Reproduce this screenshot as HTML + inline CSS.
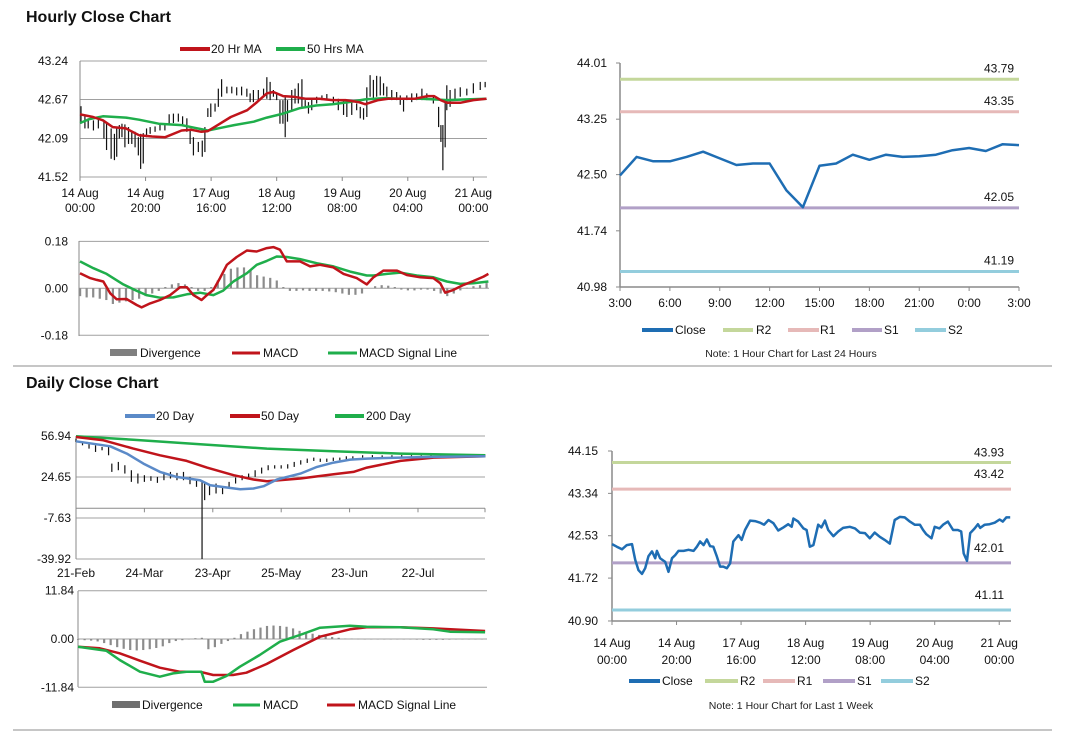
<!DOCTYPE html>
<html><head><meta charset="utf-8">
<style>
html,body{margin:0;padding:0;background:#fff;}
svg{display:block;font-family:"Liberation Sans",Arial,sans-serif;}
</style></head>
<body>
<svg id="chart" width="1066" height="733" viewBox="0 0 1066 733" xmlns="http://www.w3.org/2000/svg">
<rect x="0" y="0" width="1066" height="733" fill="#fff"/>
<text x="26" y="22" font-size="16" font-weight="bold" fill="#111">Hourly Close Chart</text>
<text x="26" y="388" font-size="16" font-weight="bold" fill="#111">Daily Close Chart</text>
<line x1="13" y1="366" x2="1052" y2="366" stroke="#8c8c8c" stroke-width="1"/>
<line x1="13" y1="730" x2="1052" y2="730" stroke="#8c8c8c" stroke-width="1"/>
</svg>
<script>
// ===== Hourly price chart data =====
const hTicks=["43.24","42.67","42.09","41.52"];
const hTickVals=[43.24,42.67,42.09,41.52];
const hXLabels1=["14 Aug","14 Aug","17 Aug","18 Aug","19 Aug","20 Aug","21 Aug"];
const hXLabels2=["00:00","20:00","16:00","12:00","08:00","04:00","00:00"];
const hXLabelIdx=[0,20,40,60,80,100,120];
const hBarIdx=[0.3,1.5,2.5,4.1,5.6,7.3,8.1,9.5,10.5,11.2,12.0,12.8,13.7,14.8,15.8,16.8,17.8,18.5,19.3,20.3,21.4,22.9,24.4,25.9,27.2,28.5,30.0,31.3,32.6,33.6,34.6,36.1,37.3,38.1,39.0,39.9,41.2,42.2,43.2,44.8,46.3,47.8,49.3,50.9,51.9,52.9,54.4,56.0,57.0,58.0,59.0,60.0,61.0,61.9,62.6,63.3,64.6,65.6,66.6,67.7,68.7,69.7,70.7,72.2,73.8,75.3,77.3,78.8,80.4,81.4,82.9,84.4,85.5,86.5,87.5,88.5,89.5,90.5,91.6,92.6,93.6,95.1,96.6,97.7,98.7,99.7,101.2,102.7,104.3,105.8,107.8,109.4,110.1,110.7,111.4,111.9,112.9,114.4,116.0,118.0,120.0,122.1,123.6];
const hBarHigh=[42.57,42.44,42.39,42.36,42.41,42.36,42.31,42.24,42.16,42.26,42.29,42.31,42.30,42.26,42.21,42.19,42.11,42.16,42.17,42.24,42.26,42.27,42.31,42.32,42.45,42.46,42.46,42.42,42.39,42.24,42.11,42.04,42.06,42.26,42.54,42.61,42.61,42.83,42.97,42.86,42.86,42.85,42.86,42.83,42.76,42.81,42.81,42.83,43.00,42.93,42.81,42.76,42.66,42.66,42.71,42.66,42.81,42.83,42.91,42.97,42.66,42.63,42.68,42.71,42.73,42.75,42.71,42.68,42.66,42.63,42.66,42.61,42.56,42.54,42.85,43.03,42.96,43.02,43.01,42.91,42.86,42.81,42.78,42.73,42.68,42.73,42.76,42.76,42.83,42.76,42.73,42.56,42.29,42.29,42.66,42.88,42.81,42.83,42.85,42.83,42.91,42.93,42.93];
const hBarLow=[42.31,42.24,42.24,42.21,42.24,42.09,41.92,41.79,41.77,41.82,42.09,42.11,41.96,42.01,42.01,41.96,41.84,41.64,41.72,42.11,42.16,42.19,42.21,42.21,42.30,42.32,42.34,42.27,42.19,42.01,41.84,41.89,41.82,41.89,42.41,42.41,42.49,42.56,42.71,42.76,42.76,42.73,42.73,42.71,42.63,42.63,42.66,42.73,42.68,42.66,42.71,42.66,42.31,42.31,42.11,42.34,42.51,42.61,42.61,42.56,42.54,42.46,42.51,42.61,42.66,42.66,42.61,42.51,42.44,42.41,42.44,42.51,42.39,42.37,42.41,42.71,42.66,42.71,42.73,42.73,42.71,42.66,42.66,42.59,42.49,42.66,42.63,42.66,42.66,42.66,42.61,42.26,42.04,41.62,41.96,42.51,42.56,42.66,42.71,42.73,42.76,42.81,42.85];
const ma20Idx=[0,4,7,10,14,18,22,26,31,34,37,39,42,46,51,54,57,59,62,65,69,73,77,81,85,87,91,94,98,102,106,108,110,112,116,120,124];
const ma20Vals=[42.45,42.41,42.36,42.26,42.24,42.14,42.12,42.11,42.21,42.22,42.19,42.20,42.29,42.41,42.51,42.63,42.76,42.78,42.72,42.71,42.68,42.68,42.66,42.66,42.63,42.60,42.66,42.68,42.68,42.68,42.72,42.72,42.66,42.62,42.62,42.66,42.68];
const ma50Idx=[0,3,7,14,18,24,31,35,39,43,47,53,57,62,67,72,77,82,87,93,98,104,108,112,118,124];
const ma50Vals=[42.32,42.38,42.42,42.40,42.37,42.31,42.29,42.25,42.21,42.25,42.29,42.34,42.40,42.46,42.54,42.58,42.60,42.63,42.67,42.69,42.68,42.68,42.67,42.66,42.67,42.68];
// ===== Hourly MACD data =====
const hmTicks=["0.18","0.00","-0.18"];
const hmTickVals=[0.18,0,-0.18];
const hmMacdIdx=[0,3.1,5.1,7.1,9.2,11.2,14.2,17.3,18.8,21.4,24.4,27.5,30.5,32.6,34.6,37.1,38.7,40.7,42.7,44.8,47.8,50.9,53.9,57.0,59.0,61.0,63.1,65.1,67.1,70.2,73.2,77.3,80.4,84.4,87.5,89.5,92.6,96.7,99.7,103.8,107.8,109.9,111.4,113.9,117.0,120.0,123.1,124.6];
const hmMacdVals=[0.058,0.039,0.032,0.026,-0.019,-0.042,-0.041,-0.064,-0.073,-0.058,-0.045,-0.026,0.004,0.004,-0.026,-0.045,-0.026,-0.006,0.039,0.090,0.120,0.145,0.141,0.154,0.158,0.148,0.103,0.103,0.103,0.084,0.090,0.080,0.055,0.039,0.015,0.042,0.068,0.068,0.051,0.042,0.039,0.019,-0.017,-0.006,0.013,0.028,0.045,0.055];
const hmSigIdx=[0,4.1,8.1,13.2,16.3,20.3,24.4,28.5,32.6,36.6,40.7,43.7,46.8,50.9,53.9,57.0,60.0,63.1,67.1,72.2,77.3,82.4,87.5,89.5,93.6,97.7,102.7,107.8,111.9,116.0,120.0,124.6];
const hmSigVals=[0.103,0.077,0.055,0.015,-0.004,-0.026,-0.036,-0.035,-0.023,-0.017,-0.026,-0.009,0.026,0.058,0.090,0.105,0.122,0.120,0.112,0.096,0.084,0.064,0.049,0.049,0.055,0.060,0.049,0.042,0.026,0.017,0.019,0.026];
const hmDiv=[-0.030,-0.035,-0.035,-0.040,-0.045,-0.060,-0.055,-0.050,-0.045,-0.040,-0.030,-0.020,-0.010,0.005,0.015,0.020,0.015,0.005,-0.010,-0.010,0.005,0.030,0.055,0.075,0.080,0.080,0.070,0.050,0.045,0.040,0.030,0.005,-0.010,-0.010,-0.008,-0.010,-0.010,-0.010,-0.012,-0.015,-0.020,-0.025,-0.025,-0.020,0.000,0.008,0.012,0.010,0.005,-0.005,-0.008,-0.008,-0.005,-0.005,-0.010,-0.020,-0.030,-0.020,-0.008,0.002,0.008,0.012,0.020];
// ===== Daily price chart data =====
const dTicks=["56.94","24.65","-7.63","-39.92"];
const dTickVals=[56.94,24.65,-7.63,-39.92];
const dXLabels=["21-Feb","24-Mar","23-Apr","25-May","23-Jun","22-Jul"];
const dXLabelIdx=[0,21,42,63,84,105];
const d200Idx=[0,17.6,38.1,58.6,79.1,99.6,125.7];
const d200Vals=[56.68,54.06,50.40,47.0,44.90,43.07,41.76];
const d50Idx=[0,8.4,17.6,25.8,34.0,40.2,48.4,54.5,58.6,68.9,79.1,85.2,89.3,99.6,109.8,125.7];
const d50Vals=[56.15,53.54,47.0,41.76,37.31,32.08,26.06,22.66,21.35,23.45,26.84,28.67,32.08,37.31,39.93,40.97];
const d20Idx=[0,6.4,10.5,15.6,20.7,25.8,30.9,38.1,41.2,46.3,50.4,54.5,57.6,61.7,68.9,74.0,79.1,84.2,89.3,99.6,109.8,125.7];
const d20Vals=[52.75,50.40,48.83,43.07,35.22,28.67,24.75,22.13,18.21,16.37,15.07,15.59,17.42,22.66,27.37,32.60,36.0,38.36,39.14,39.93,40.45,40.97];
const dBarIdx=[0,2,4,6,8,10,11,13,15,17,19,21,23,25,27,29,31,33,35,37,38.7,39.5,41,43,45,47,49,51,53,55,57,59,61,63,65,67,69,71,73,75,77,79,81,83,85,88,91,94,97,100,103,106,109,112,115,118,121,124];
const dBarHigh=[54.85,52.23,50.92,49.61,48.31,49.61,35.22,36.53,33.91,29.98,27.37,26.06,25.27,24.75,28.67,28.67,27.89,28.67,24.75,23.44,22.13,19.51,18.21,19.51,16.90,20.82,24.23,26.06,27.37,29.98,32.08,33.91,33.91,33.91,34.7,36.53,37.84,39.14,39.93,39.14,39.14,39.93,39.93,40.97,40.97,41.8,41.9,41.7,41.8,41.9,41.8,41.7,41.9,41.8,41.9,41.8,41.9,41.8];
const dBarLow=[52.23,49.61,47.0,44.38,45.69,41.76,28.67,29.98,27.37,20.82,19.51,20.82,21.61,20.04,22.13,23.44,22.13,22.13,18.99,16.90,-39.92,6.43,10.35,11.66,11.14,15.59,19.51,22.13,23.44,24.75,27.37,29.98,31.29,31.29,31.29,32.6,34.43,35.74,37.31,36.53,36.53,37.31,37.84,38.36,39.14,40.0,40.2,40.1,40.3,40.2,40.4,40.3,40.5,40.4,40.6,40.5,40.6,40.7];
// ===== Daily MACD data =====
const dmTicks=["11.84","0.00","-11.84"];
const dmTickVals=[11.84,0,-11.84];
const dmMacdIdx=[0,8.7,12.8,19.0,25.1,29.2,33.3,37.9,38.9,41.5,45.6,49.7,55.8,62.0,68.1,74.3,83.5,88.6,98.9,109.1,114.2,125.0];
const dmMacdVals=[-1.88,-2.86,-5.15,-8.01,-9.23,-8.42,-8.01,-8.01,-10.46,-10.46,-9.07,-6.78,-3.92,-0.65,0.98,2.78,3.27,3.02,2.86,2.37,1.80,1.63];
const dmSigIdx=[0,6.7,12.8,19.0,25.1,31.2,37.4,41.5,47.6,51.7,57.9,66.1,74.3,83.5,88.6,98.9,109.1,125.0];
const dmSigVals=[-1.88,-2.29,-3.51,-5.31,-7.03,-8.01,-8.01,-8.82,-8.82,-8.25,-6.13,-2.70,0.57,2.37,2.86,2.86,2.61,1.96];
const dmDiv=[-0.2,-0.3,-0.4,-0.6,-1.0,-1.5,-2.0,-2.4,-2.7,-2.8,-2.7,-2.5,-2.2,-1.8,-1.0,-0.5,-0.3,0.0,0.2,0.3,-2.5,-2.0,-1.2,-0.5,0.3,1.2,1.8,2.4,2.8,3.2,3.3,3.2,3.0,2.6,2.0,1.6,1.3,1.0,0.8,0.5,0.3,0.1,0.1,0.05,0,0,0,-0.05,-0.1,-0.1,-0.1,-0.1,-0.15,-0.2,-0.2,-0.2,-0.2,-0.15,-0.1,-0.1,-0.1,-0.05,-0.05];
// ===== 24h pivot chart data =====
const p1Ticks=["44.01","43.25","42.50","41.74","40.98"];
const p1TickVals=[44.01,43.25,42.50,41.74,40.98];
const p1XLabels=["3:00","6:00","9:00","12:00","15:00","18:00","21:00","0:00","3:00"];
const p1Close=[42.49,42.74,42.68,42.68,42.74,42.81,42.72,42.63,42.65,42.65,42.29,42.06,42.62,42.65,42.77,42.70,42.77,42.74,42.75,42.77,42.83,42.86,42.82,42.91,42.90];
const p1Levels=[43.79,43.35,42.05,41.19];
const p1LevelNames=["R2","R1","S1","S2"];
// ===== 1 week pivot chart data =====
const p2Ticks=["44.15","43.34","42.53","41.72","40.90"];
const p2TickVals=[44.15,43.34,42.53,41.72,40.90];
const p2XLabels1=["14 Aug","14 Aug","17 Aug","18 Aug","19 Aug","20 Aug","21 Aug"];
const p2XLabels2=["00:00","20:00","16:00","12:00","08:00","04:00","00:00"];
const p2XLabelIdx=[0,20,40,60,80,100,120];
const p2Idx=[0,1.5,3.1,4.6,6.2,7.2,8.2,9.3,10.3,11.3,12.4,13.4,13.9,14.9,16.5,17.5,18.6,19.6,20.6,22.2,23.7,25.3,26.3,27.3,28.4,29.4,30.4,31.4,32.5,33.5,34.5,35.6,36.6,37.6,39.2,40.2,41.2,42.8,44.3,45.9,47.1,48.5,50.0,51.5,53.1,54.6,55.7,56.2,57.7,59.3,60.3,61.3,62.4,63.9,64.9,66.0,67.0,68.6,70.1,71.6,73.7,75.3,76.8,78.4,79.9,81.4,83.0,84.5,86.1,87.6,89.2,90.7,92.3,93.8,95.4,96.4,97.4,99.0,100.0,101.5,102.6,104.1,105.7,107.2,108.2,109.0,110.0,111.0,112.4,113.4,114.1,115.5,117.0,118.6,120.1,121.1,122.2,123.4];
const p2Close=[42.37,42.32,42.27,42.35,42.37,42.07,41.87,41.80,41.91,42.14,42.23,42.10,42.24,42.10,42.03,41.84,42.10,42.16,42.24,42.24,42.26,42.24,42.32,42.42,42.35,42.46,42.33,42.32,42.13,41.94,41.94,41.91,42.00,42.42,42.54,42.45,42.64,42.82,42.81,42.78,42.74,42.83,42.77,42.63,42.69,42.75,42.70,42.86,42.80,42.67,42.64,42.32,42.35,42.74,42.69,42.82,42.64,42.52,42.61,42.68,42.70,42.67,42.59,42.58,42.48,42.59,42.51,42.45,42.38,42.83,42.89,42.88,42.80,42.74,42.74,42.64,42.56,42.48,42.70,42.67,42.74,42.80,42.64,42.64,42.61,42.19,42.05,42.58,42.67,42.75,42.68,42.74,42.75,42.78,42.84,42.80,42.88,42.88];
const p2Levels=[43.93,43.42,42.01,41.11];
const p2LevelNames=["R2","R1","S1","S2"];

const NS='http://www.w3.org/2000/svg';
const svg=document.getElementById('chart');
function mk(tag,attrs,name,parent){
  const el=document.createElementNS(NS,tag);
  for(const k in attrs) el.setAttribute(k,attrs[k]);
  
  
  (parent||svg).appendChild(el);
  return el;
}
function txt(x,y,s,anchor,size,name,fill){
  const t=mk('text',{x:x,y:y,'text-anchor':anchor,'font-size':size,fill:fill||'#111'},name);
  t.textContent=s;
  return t;
}
function ln(x1,y1,x2,y2,stroke,w,name){return mk('line',{x1:x1,y1:y1,x2:x2,y2:y2,stroke:stroke,'stroke-width':w},name);}
function poly(xs,ys,sx,sy,stroke,w,name){
  const pts=xs.map((x,i)=>sx(x).toFixed(1)+','+sy(ys[i]).toFixed(1)).join(' ');
  return mk('polyline',{points:pts,fill:'none',stroke:stroke,'stroke-width':w,'stroke-linejoin':'round'},name);
}
const GRID='#a0a0a0', AX='#8a8a8a';
const RED='#c0141b', GREEN='#1fae4b', BLUE='#5b8ac8', PBLUE='#1e6db3';

// ---- Hourly price ----
(function(){
  const x=i=>80+i*3.278, y=v=>61+(43.24-v)*67.44;
  hTickVals.forEach((v,i)=>{ln(80,y(v),487,y(v),GRID,1,'h-gridline');txt(68,y(v)+4,hTicks[i],'end',12,'h-y-tick');});
  ln(80,61,80,177,AX,1,'h-y-axis');
  hXLabelIdx.forEach((d,i)=>{ln(x(d),177,x(d),181,AX,1,'h-x-tick');txt(x(d),197,hXLabels1[i],'middle',12,'h-x-label');txt(x(d),212,hXLabels2[i],'middle',12,'h-x-label');});
  hBarIdx.forEach((d,i)=>{ln(x(d),y(hBarHigh[i]),x(d),y(hBarLow[i]),'#111',1.2,'h-price-bar');});
  poly(ma50Idx,ma50Vals,x,y,GREEN,2.5,'ma50-line');
  poly(ma20Idx,ma20Vals,x,y,RED,2.5,'ma20-line');
  ln(180,49,210,49,RED,4,'legend-ma20-swatch');txt(211,53,'20 Hr MA','start',12,'legend-ma20');
  ln(276,49,305,49,GREEN,4,'legend-ma50-swatch');txt(307,53,'50 Hrs MA','start',12,'legend-ma50');
})();
// ---- Hourly MACD ----
(function(){
  const x=i=>80+i*3.278, y=v=>288.3-v*261;
  hmTickVals.forEach((v,i)=>{ln(79,y(v),489,y(v),GRID,1,'hm-gridline');txt(68,y(v)+4,hmTicks[i],'end',12,'hm-y-tick');});
  ln(79,241,79,336,AX,1,'hm-y-axis');
  hmDiv.forEach((v,i)=>{mk('rect',{x:x(i*2)-1,y:Math.min(y(0),y(v)),width:2.2,height:Math.abs(y(v)-y(0)),fill:'#8c8c8c'},'hm-divergence-bar');});
  poly(hmSigIdx,hmSigVals,x,y,GREEN,2.5,'hm-signal-line');
  poly(hmMacdIdx,hmMacdVals,x,y,RED,2.5,'hm-macd-line');
  mk('rect',{x:110,y:349,width:27,height:7,fill:'#7f7f7f'},'legend-divergence-swatch');txt(140,357,'Divergence','start',12,'legend-divergence');
  ln(232,353,260,353,RED,3,'legend-macd-swatch');txt(263,357,'MACD','start',12,'legend-macd');
  ln(328,353,357,353,GREEN,3,'legend-signal-swatch');txt(359,357,'MACD Signal Line','start',12,'legend-signal');
})();
// ---- Daily price ----
(function(){
  const x=i=>76+i*3.257, y=v=>436+(56.94-v)*1.2699;
  dTickVals.forEach((v,i)=>{ln(76,y(v),485,y(v),GRID,1,'d-gridline');txt(71,y(v)+4,dTicks[i],'end',12,'d-y-tick');});
  ln(76,436,76,559,AX,1,'d-y-axis');
  ln(76,y(0),485,y(0),AX,1,'d-zero-axis');
  dXLabelIdx.forEach((d,i)=>{ln(x(d),y(0),x(d),y(0)+4,AX,1,'d-x-tick');txt(x(d),577,dXLabels[i],'middle',12,'d-x-label');});
  ln(485,y(0),485,y(0)+4,AX,1,'d-x-tick');
  dBarIdx.forEach((d,i)=>{ln(x(d),y(dBarHigh[i]),x(d),y(dBarLow[i]),'#111',1.2,'d-price-bar');});
  poly(d200Idx,d200Vals,x,y,GREEN,2.5,'ma200-line');
  poly(d50Idx,d50Vals,x,y,RED,2.5,'ma50d-line');
  poly(d20Idx,d20Vals,x,y,BLUE,2.5,'ma20d-line');
  ln(125,416,155,416,BLUE,4,'legend-20day-swatch');txt(156,420,'20 Day','start',12,'legend-20day');
  ln(230,416,260,416,RED,4,'legend-50day-swatch');txt(261,420,'50 Day','start',12,'legend-50day');
  ln(335,416,364,416,GREEN,4,'legend-200day-swatch');txt(366,420,'200 Day','start',12,'legend-200day');
})();
// ---- Daily MACD ----
(function(){
  const x=i=>78+i*3.257, y=v=>639-v*4.08;
  dmTickVals.forEach((v,i)=>{ln(78,y(v),487,y(v),GRID,1,'dm-gridline');txt(74,y(v)+4,dmTicks[i],'end',12,'dm-y-tick');});
  ln(78,591,78,687,AX,1,'dm-y-axis');
  dmDiv.forEach((v,i)=>{mk('rect',{x:x(i*2)-1,y:Math.min(y(0),y(v)),width:2.2,height:Math.max(0.5,Math.abs(y(v)-y(0))),fill:'#8c8c8c'},'dm-divergence-bar');});
  poly(dmSigIdx,dmSigVals,x,y,RED,2.5,'dm-signal-line');
  poly(dmMacdIdx,dmMacdVals,x,y,GREEN,2.5,'dm-macd-line');
  mk('rect',{x:112,y:701,width:28,height:7,fill:'#6f6f6f'},'legend-d-divergence-swatch');txt(142,709,'Divergence','start',12,'legend-d-divergence');
  ln(233,705,260,705,GREEN,3,'legend-d-macd-swatch');txt(263,709,'MACD','start',12,'legend-d-macd');
  ln(327,705,355,705,RED,3,'legend-d-signal-swatch');txt(358,709,'MACD Signal Line','start',12,'legend-d-signal');
})();
// ---- Pivot charts ----
const LVLC={R2:'#c4d79b',R1:'#e6b9b8',S1:'#b1a0c7',S2:'#93cddd'};
(function(){
  const x=i=>620+i*16.625, y=v=>63+(44.01-v)*73.93;
  p1TickVals.forEach((v,i)=>{ln(616,y(v),620,y(v),AX,1,'p1-y-tick-mark');txt(607,y(v)+4,p1Ticks[i],'end',12,'p1-y-tick');});
  ln(620,63,620,287,AX,1.5,'p1-y-axis');ln(620,287,1019,287,AX,1.5,'p1-x-axis');
  p1XLabels.forEach((s,i)=>{ln(x(i*3),287,x(i*3),291,AX,1,'p1-x-tick');txt(x(i*3),307,s,'middle',12,'p1-x-label');});
  p1Levels.forEach((v,i)=>{ln(620,y(v),1019,y(v),LVLC[p1LevelNames[i]],3,'p1-level-'+p1LevelNames[i].toLowerCase());txt(1014,y(v)-7,v.toFixed(2),'end',12,'p1-level-label');});
  poly(p1Close.map((v,i)=>i),p1Close,x,y,PBLUE,2.5,'p1-close-line');
  const lg=[[642,673,675,'Close',PBLUE],[723,753,756,'R2',LVLC.R2],[788,819,820,'R1',LVLC.R1],[852,882,884,'S1',LVLC.S1],[915,946,948,'S2',LVLC.S2]];
  lg.forEach(l=>{ln(l[0],330,l[1],330,l[4],4,'p1-legend-swatch');txt(l[2],334,l[3],'start',12,'p1-legend-'+l[3].toLowerCase());});
  txt(791,357,'Note: 1 Hour Chart for Last 24 Hours','middle',10.5,'p1-note','#222');
})();
(function(){
  const x=i=>612+i*3.227, y=v=>451+(44.15-v)*52.3;
  p2TickVals.forEach((v,i)=>{ln(608,y(v),612,y(v),AX,1,'p2-y-tick-mark');txt(598,y(v)+4,p2Ticks[i],'end',12,'p2-y-tick');});
  ln(612,451,612,621,AX,1.5,'p2-y-axis');ln(612,621,1011,621,AX,1.5,'p2-x-axis');
  p2XLabelIdx.forEach((d,i)=>{ln(x(d),621,x(d),625,AX,1,'p2-x-tick');txt(x(d),647,p2XLabels1[i],'middle',12,'p2-x-label');txt(x(d),664,p2XLabels2[i],'middle',12,'p2-x-label');});
  p2Levels.forEach((v,i)=>{ln(612,y(v),1011,y(v),LVLC[p2LevelNames[i]],3,'p2-level-'+p2LevelNames[i].toLowerCase());});
  poly(p2Idx,p2Close,x,y,PBLUE,2.5,'p2-close-line');
  p2Levels.forEach((v,i)=>{txt(1004,y(v)-(i==0?6:11),v.toFixed(2),'end',12,'p2-level-label');});
  const lg=[[629,660,662,'Close',PBLUE],[705,738,740,'R2',LVLC.R2],[763,795,797,'R1',LVLC.R1],[823,855,857,'S1',LVLC.S1],[881,913,915,'S2',LVLC.S2]];
  lg.forEach(l=>{ln(l[0],681,l[1],681,l[4],4,'p2-legend-swatch');txt(l[2],685,l[3],'start',12,'p2-legend-'+l[3].toLowerCase());});
  txt(791,709,'Note: 1 Hour Chart for Last 1 Week','middle',10.5,'p2-note','#222');
})();
</script>
</body></html>
